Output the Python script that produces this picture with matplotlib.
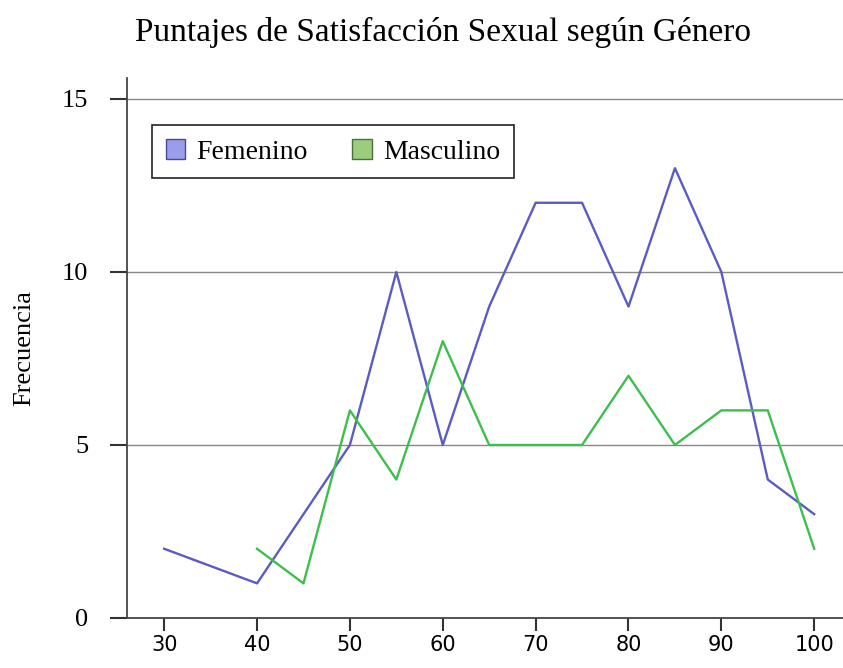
import matplotlib.pyplot as plt
from matplotlib.patches import Patch

# Score values (x axis) and frequencies per gender
femenino_x = [30, 40, 50, 55, 60, 65, 70, 75, 80, 85, 90, 95, 100]
femenino_y = [2, 1, 5, 10, 5, 9, 12, 12, 9, 13, 10, 4, 3]

masculino_x = [40, 45, 50, 55, 60, 65, 70, 75, 80, 85, 90, 95, 100]
masculino_y = [2, 1, 6, 4, 8, 5, 5, 5, 7, 5, 6, 6, 2]

x_ticks = [30, 40, 50, 60, 70, 80, 90, 100]
y_ticks = [0, 5, 10, 15]

serif = ['Liberation Serif', 'DejaVu Serif']
sans = ['DejaVu Sans']

fig = plt.figure(figsize=(8.43, 6.68), dpi=100)
ax = fig.add_axes([0.1507, 0.0749, 0.8493, 0.808])

ax.plot(femenino_x, femenino_y, color='#5a5cc4', linewidth=1.7)
ax.plot(masculino_x, masculino_y, color='#3dbf4c', linewidth=1.7)

ax.set_xlim(26.0, 103.1)
ax.set_ylim(0, 15.6)

ax.set_xticks(x_ticks)
ax.set_xticklabels([str(v) for v in x_ticks], family=sans, fontsize=15)
ax.set_yticks(y_ticks)
ax.set_yticklabels([str(v) for v in y_ticks], family=serif, fontsize=19)

ax.tick_params(axis='x', direction='out', length=9, width=1.5, color='#333333', pad=3)
ax.tick_params(axis='y', direction='out', length=12, width=1.5, color='#333333', pad=16)

for v in y_ticks[1:]:
    ax.axhline(v, color='#888888', linewidth=1.0, zorder=0)

ax.spines['top'].set_visible(False)
ax.spines['right'].set_visible(False)
ax.spines['left'].set_color('#444444')
ax.spines['bottom'].set_color('#444444')
ax.spines['left'].set_linewidth(1.3)
ax.spines['bottom'].set_linewidth(1.3)

ax.set_ylabel('Frecuencia', family=serif, fontsize=19, labelpad=19)

fig.suptitle('Puntajes de Satisfacción Sexual según Género', family=serif,
             fontsize=24, x=0.525, y=0.952, va='center')

handles = [
    Patch(facecolor='#9a9cec', edgecolor='#4a4a90', label='Femenino'),
    Patch(facecolor='#9ccc7c', edgecolor='#4a7040', label='Masculino'),
]
leg = ax.legend(handles=handles, loc='upper left', bbox_to_anchor=(0.035, 0.913),
                borderaxespad=0, ncol=2, fancybox=False, framealpha=1,
                edgecolor='#222222', prop={'family': serif, 'size': 20},
                handlelength=0.7, handleheight=0.7, handletextpad=0.4,
                columnspacing=1.6, borderpad=0.5)
leg.get_frame().set_linewidth(1.2)

fig.savefig('out.png', dpi=100)
